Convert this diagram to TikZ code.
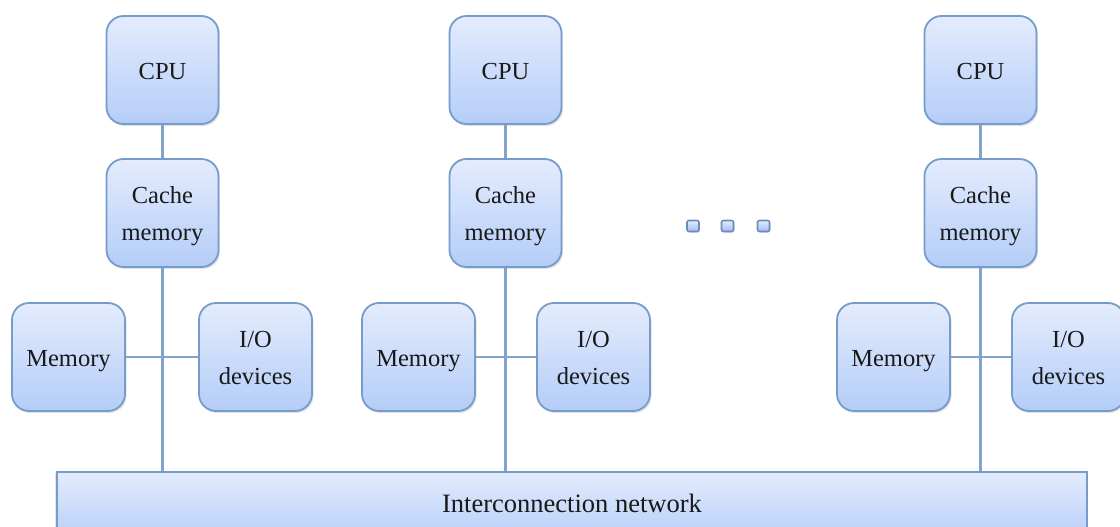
\documentclass[tikz,border=0pt]{standalone}
\usepackage{fontspec}
\setmainfont{Liberation Serif}
\usetikzlibrary{shadows}
\definecolor{boxedge}{HTML}{769CCA}
\definecolor{boxtop}{HTML}{E4ECFD}
\definecolor{boxbottom}{HTML}{B4CDF8}
\definecolor{wire}{HTML}{82A4CB}
% centred label lines, set a little below the box centre
\newcommand\boxtext[1]{\raisebox{-1.8pt}[\height][\depth]{\begin{tabular}{@{}c@{}}#1\end{tabular}}}
\begin{document}
\begin{tikzpicture}[x=1pt,y=-1pt,
  unit/.style={draw=boxedge, line width=1.8pt, rounded corners=17pt,
    top color=boxtop, bottom color=boxbottom,
    minimum width=112pt, minimum height=108pt, inner sep=0pt,
    font=\fontsize{24.5}{37}\selectfont, text=black!90,
    drop shadow={opacity=0.22, shadow xshift=1.5pt, shadow yshift=-2pt}},
  netbox/.style={draw=boxedge, line width=1.8pt,
    top color=boxtop, bottom color=boxbottom,
    drop shadow={opacity=0.22, shadow xshift=-1.5pt, shadow yshift=-1pt}},
  dotbox/.style={draw=boxedge!90!black, line width=1.6pt, rounded corners=2pt,
    top color=boxtop, bottom color=boxbottom!90!blue,
    minimum width=12pt, minimum height=11pt, inner sep=0pt,
    drop shadow={opacity=0.3, shadow xshift=1pt, shadow yshift=-1pt}},
  wireline/.style={draw=wire, line width=2.2pt}]
\useasboundingbox (0,0) rectangle (1120,527);
\clip (0,0) rectangle (1120,527);

% interconnection network (runs off the bottom edge)
\node[netbox, minimum width=1030pt, minimum height=70pt, inner sep=0pt,
      anchor=north west] (net) at (56,471) {};
\node[font=\fontsize{26.5}{28}\selectfont, text=black!90] (netlabel) at (572,503)
  {Interconnection network};

% processing nodes: CPU, cache, memory and I/O around a local bus
\foreach \i/\cx/\mx/\ix in {1/162.5/68.5/255.5, 2/505.5/418.5/593.5, 3/980.5/893.5/1068.5}{
  \node[unit] (cpu\i)   at (\cx,70)  {\boxtext{CPU}};
  \node[unit] (cache\i) at (\cx,213) {\boxtext{Cache\\memory}};
  \node[unit, minimum width=113pt] (mem\i) at (\mx,357) {\boxtext{Memory}};
  \node[unit, minimum width=113pt] (io\i)  at (\ix,357) {\boxtext{I/O\\devices}};
  \draw[wireline] (cpu\i.south) -- (cache\i.north);
  \draw[wireline] (cache\i.south) -- (cache\i.south |- net.north);
  \draw[wireline] (mem\i.east) -- (io\i.west);
}

% ellipsis between the second and last node
\node[dotbox] (dot1) at (693,226) {};
\node[dotbox] (dot2) at (727.5,226) {};
\node[dotbox] (dot3) at (763.5,226) {};
\end{tikzpicture}
\end{document}
